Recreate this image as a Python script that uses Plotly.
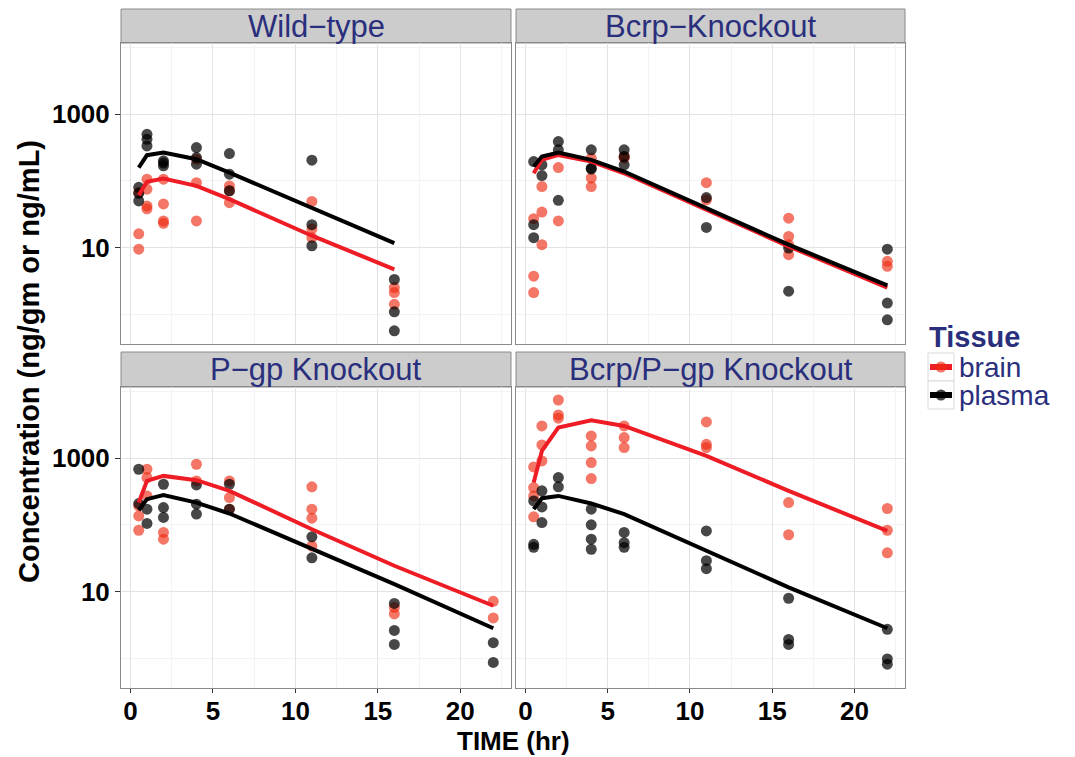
import plotly.graph_objects as go

# ---------------- data ----------------
panel_names = ["Wild\u2212type", "Bcrp\u2212Knockout", "P\u2212gp Knockout", "Bcrp/P\u2212gp Knockout"]
legend_title = "Tissue"
legend_names = ["brain", "plasma"]

x_tick_vals = [0, 5, 10, 15, 20]
y_tick_vals = [10, 1000]
y_tick_text = ["10", "1000"]

# model-line time grid
line_t_wt = [0.5, 1, 2, 4, 6, 11, 16]
line_t = [0.5, 1, 2, 4, 6, 11, 16, 22]

# Wild-type
wt_plasma_t = [0.5, 0.5, 0.5, 1, 1, 1, 2, 2, 2, 4, 4, 4, 6, 6, 6, 11, 11, 11, 16, 16, 16]
wt_plasma_c = [80, 65, 50, 500, 420, 335, 200, 168, 185, 316, 224, 178, 257, 126, 71, 204, 22, 10.6, 3.3, 1.08, 0.56]
wt_brain_t = [0.5, 0.5, 0.5, 1, 1, 1, 1, 2, 2, 2, 2, 4, 4, 4, 6, 6, 6, 11, 11, 11, 16, 16, 16]
wt_brain_c = [67, 16, 9.4, 106, 75, 42, 38, 106, 45, 25, 23, 211, 94, 25, 84, 71, 47, 49, 19, 14, 2.5, 2.1, 1.4]
wt_plasma_line = [158, 243, 266, 211, 133, 40, 11.6]
wt_brain_line = [61, 97, 108, 84, 53, 15, 4.7]

# Bcrp-Knockout
bk_plasma_t = [0.5, 0.5, 0.5, 1, 1, 2, 2, 2, 4, 4, 4, 6, 6, 6, 11, 11, 16, 16, 22, 22, 22]
bk_plasma_c = [195, 22, 14, 174, 120, 389, 292, 51, 292, 155, 150, 292, 232, 174, 56, 20, 9.8, 2.2, 9.4, 1.46, 0.82]
bk_brain_t = [0.5, 0.5, 0.5, 1, 1, 1, 2, 2, 4, 4, 4, 6, 6, 11, 11, 16, 16, 16, 16, 22, 22]
bk_brain_c = [27, 3.7, 2.1, 82, 34, 11, 158, 25, 219, 110, 82, 232, 219, 94, 52, 27.5, 14.6, 11, 7.8, 6.2, 5.2]
bk_plasma_line = [164, 232, 266, 207, 138, 39, 11, 2.7]
bk_brain_line = [130, 207, 245, 195, 130, 36.7, 10.4, 2.5]

# P-gp Knockout
pk_plasma_t = [0.5, 0.5, 1, 1, 2, 2, 2, 4, 4, 4, 6, 6, 11, 11, 16, 16, 16, 22, 22]
pk_plasma_c = [684, 209, 172, 105, 407, 182, 129, 398, 204, 145, 407, 172, 66, 32, 6.6, 2.6, 1.6, 1.7, 0.86]
pk_brain_t = [0.5, 0.5, 0.5, 1, 1, 1, 2, 2, 4, 4, 6, 6, 6, 11, 11, 11, 11, 16, 16, 22, 22]
pk_brain_c = [193, 136, 83, 684, 513, 272, 77, 61, 813, 457, 457, 257, 172, 372, 172, 126, 48, 5.75, 4.6, 7.1, 4.0]
pk_plasma_line = [166, 243, 279, 216, 148, 43, 12.9, 2.8]
pk_brain_line = [216, 457, 543, 468, 324, 86, 24.3, 6.1]

# Bcrp/P-gp Knockout
dk_plasma_t = [0.5, 0.5, 0.5, 1, 1, 1, 2, 2, 4, 4, 4, 4, 6, 6, 6, 11, 11, 11, 16, 16, 16, 22, 22, 22]
dk_plasma_c = [229, 51, 46, 324, 186, 108, 513, 372, 172, 100, 61, 43, 77, 54, 46, 81, 29, 22, 7.9, 1.9, 1.6, 2.7, 0.97, 0.81]
dk_brain_t = [0.5, 0.5, 0.5, 0.5, 1, 1, 1, 2, 2, 2, 4, 4, 4, 4, 6, 6, 6, 11, 11, 11, 16, 16, 22, 22, 22]
dk_brain_c = [741, 363, 272, 132, 3055, 1585, 912, 7499, 4467, 4000, 2163, 1531, 861, 495, 3055, 2042, 1445, 3508, 1622, 1445, 216, 71, 176, 83, 38]
dk_plasma_line = [172, 251, 272, 209, 145, 41, 11.5, 2.8]
dk_brain_line = [432, 1288, 2884, 3715, 3055, 1084, 324, 81]

# ---------------- style ----------------
RED_PT = "rgba(238,45,20,0.65)"
BLK_PT = "rgba(0,0,0,0.72)"
RED_LN = "#EE1C25"
BLK_LN = "#000000"
NAVY = "#2A2F7D"
FONT = "Liberation Sans"

W, H = 1075, 757
ML, MR, MT, MB = 121, 170, 9, 69
PW, PH = W - ML - MR, H - MT - MB


def px_x(px):
    return (px - ML) / PW


def px_y(py):
    return (H - MB - py) / PH


x_dom = {"L": [0, px_x(511)], "R": [px_x(516), 1]}
top_strip = (9, 43)
top_panel = (43, 344)
bot_strip = (352, 387)
bot_panel = (387, 688)

fig = go.Figure()

panels = [
    ("", "L", top_panel, top_strip, False, True,
     wt_brain_t, wt_brain_c, wt_plasma_t, wt_plasma_c, line_t_wt, wt_brain_line, wt_plasma_line),
    ("2", "R", top_panel, top_strip, False, False,
     bk_brain_t, bk_brain_c, bk_plasma_t, bk_plasma_c, line_t, bk_brain_line, bk_plasma_line),
    ("3", "L", bot_panel, bot_strip, True, True,
     pk_brain_t, pk_brain_c, pk_plasma_t, pk_plasma_c, line_t, pk_brain_line, pk_plasma_line),
    ("4", "R", bot_panel, bot_strip, True, False,
     dk_brain_t, dk_brain_c, dk_plasma_t, dk_plasma_c, line_t, dk_brain_line, dk_plasma_line),
]

shapes = []
annotations = []
for i, (sfx, col, pan, strip, show_x, show_y, bt, bc, ptt, pc, lt, bl, pl) in enumerate(panels):
    xa, ya = "x" + sfx, "y" + sfx
    mk = dict(size=11, line=dict(width=0))
    fig.add_trace(go.Scatter(x=bt, y=bc, mode="markers", xaxis=xa, yaxis=ya,
                             marker=dict(color=RED_PT, **mk), showlegend=False, hoverinfo="skip"))
    fig.add_trace(go.Scatter(x=ptt, y=pc, mode="markers", xaxis=xa, yaxis=ya,
                             marker=dict(color=BLK_PT, **mk), showlegend=False, hoverinfo="skip"))
    fig.add_trace(go.Scatter(x=lt, y=bl, mode="lines", xaxis=xa, yaxis=ya,
                             line=dict(color=RED_LN, width=4), showlegend=False, hoverinfo="skip"))
    fig.add_trace(go.Scatter(x=lt, y=pl, mode="lines", xaxis=xa, yaxis=ya,
                             line=dict(color=BLK_LN, width=4), showlegend=False, hoverinfo="skip"))

    xkey = "xaxis" + sfx
    ykey = "yaxis" + sfx
    fig.update_layout(**{
        xkey: dict(domain=x_dom[col], anchor=ya, range=[-0.575, 23.075],
                   tickvals=x_tick_vals, showticklabels=show_x,
                   ticks="outside" if show_x else "", ticklen=4, tickcolor="#333333",
                   ticklabelstandoff=-4,
                   tickfont=dict(family=FONT, size=26, color="black", weight="bold"),
                   showgrid=True, gridcolor="#E3E3E3", gridwidth=1,
                   minor=dict(tickvals=[2.5, 7.5, 12.5, 17.5, 22.5], showgrid=True,
                              gridcolor="#F3F3F3", ticks=""),
                   showline=True, mirror=True, linecolor="#8A8A8A", linewidth=1,
                   zeroline=False),
        ykey: dict(domain=[px_y(pan[1]), px_y(pan[0])], anchor=xa, type="log",
                   range=[-0.45, 4.07], tickvals=y_tick_vals, ticktext=y_tick_text,
                   showticklabels=show_y, ticks="outside" if show_y else "",
                   ticklen=5, tickcolor="#333333",
                   tickfont=dict(family=FONT, size=26, color="black", weight="bold"),
                   showgrid=True, gridcolor="#E3E3E3", gridwidth=1,
                   minor=dict(tickvals=[1, 100, 10000], showgrid=True,
                              gridcolor="#F3F3F3", ticks=""),
                   showline=True, mirror=True, linecolor="#8A8A8A", linewidth=1,
                   zeroline=False),
    })
    # strip
    x0, x1 = x_dom[col]
    shapes.append(dict(type="rect", xref="paper", yref="paper",
                       x0=x0, x1=x1, y0=px_y(strip[1]), y1=px_y(strip[0]),
                       fillcolor="#CCCCCC", line=dict(color="#8A8A8A", width=1), layer="below"))
    annotations.append(dict(text=panel_names[i], xref="paper", yref="paper",
                            x=(x0 + x1) / 2, y=px_y((strip[0] + strip[1]) / 2),
                            xanchor="center", yanchor="middle", showarrow=False,
                            font=dict(family=FONT, size=31, color=NAVY)))

# axis titles
annotations.append(dict(text="TIME (hr)", xref="paper", yref="paper", x=0.5, y=px_y(741),
                        xanchor="center", yanchor="middle", showarrow=False,
                        font=dict(family=FONT, size=26, color="black", weight="bold")))
annotations.append(dict(text="Concentration (ng/gm or ng/mL)", xref="paper", yref="paper",
                        x=px_x(29), y=px_y(362), textangle=-90,
                        xanchor="center", yanchor="middle", showarrow=False,
                        font=dict(family=FONT, size=29, color="black", weight="bold")))

# ---------------- manual legend (ggplot style) ----------------
annotations.append(dict(text="<b>" + legend_title + "</b>", xref="paper", yref="paper",
                        x=px_x(927), y=px_y(337), xanchor="left", yanchor="middle",
                        showarrow=False, font=dict(family=FONT, size=29, color=NAVY)))
key_specs = [(RED_LN, RED_PT, 353), (BLK_LN, BLK_PT, 381)]
for name, (lc, pc_, ytop) in zip(legend_names, key_specs):
    yc = ytop + 14
    shapes.append(dict(type="rect", xref="paper", yref="paper",
                       x0=px_x(928), x1=px_x(954), y0=px_y(ytop + 28), y1=px_y(ytop),
                       fillcolor="white", line=dict(color="#D9D9D9", width=1)))
    shapes.append(dict(type="line", xref="paper", yref="paper",
                       x0=px_x(930), x1=px_x(952), y0=px_y(yc), y1=px_y(yc),
                       line=dict(color=lc, width=6)))
    shapes.append(dict(type="circle", xref="paper", yref="paper",
                       x0=px_x(935.5), x1=px_x(946.5), y0=px_y(yc + 5.5), y1=px_y(yc - 5.5),
                       fillcolor=pc_, line=dict(width=0)))
    annotations.append(dict(text=name, xref="paper", yref="paper",
                            x=px_x(957), y=px_y(yc), xanchor="left", yanchor="middle",
                            showarrow=False, font=dict(family=FONT, size=28, color=NAVY)))

fig.update_layout(
    width=W, height=H,
    margin=dict(l=ML, r=MR, t=MT, b=MB),
    paper_bgcolor="white", plot_bgcolor="white",
    shapes=shapes, annotations=annotations,
    showlegend=False,
)

fig.write_html("out.html")
